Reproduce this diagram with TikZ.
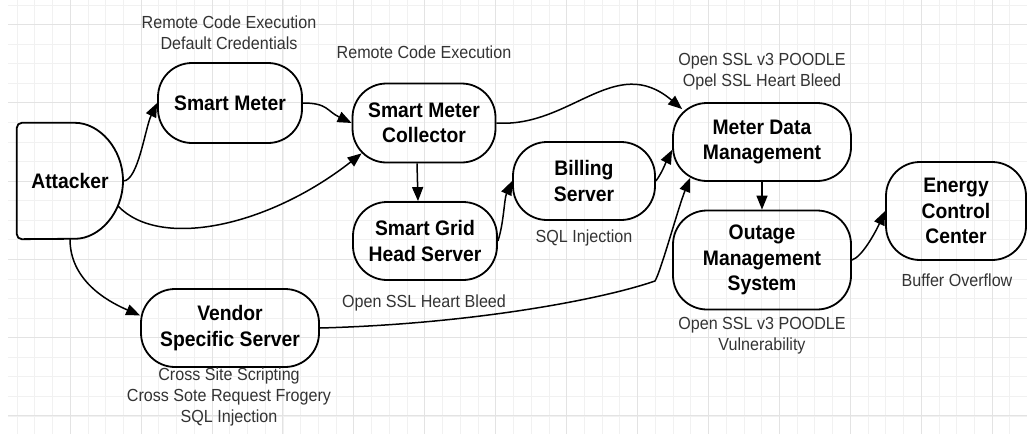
\documentclass[tikz,border=0pt]{standalone}
\usepackage{fontspec}
\setmainfont{Liberation Sans}[FakeStretch=0.92]
\usetikzlibrary{arrows.meta}
\definecolor{gridminor}{HTML}{F1F1F1}
\definecolor{gridmajor}{HTML}{E3E3E3}
\definecolor{vulngray}{HTML}{333333}
\begin{document}
\begin{tikzpicture}[x=1pt,y=-1pt,
    box/.style={draw, line width=1.8pt, rounded corners=34pt, align=center,
      font=\bfseries\fontsize{21}{25.5}\selectfont},
    link/.style={line width=1.5pt, -{Triangle[length=14pt,width=11pt]}},
    vuln/.style={font=\fontsize{17.5}{21}\selectfont, text=vulngray, align=center, inner sep=0pt},
    gridline/.style={draw=gridminor, line width=0.8pt},
    gridbold/.style={draw=gridmajor, line width=1pt}]
    \useasboundingbox (0,0) rectangle (1027,434);
    % grid
    \foreach \k in {0,...,56}
        \draw[gridline] ({17+17.73*\k},0) -- ({17+17.73*\k},434);
    \foreach \k in {0,...,21}
        \draw[gridline] (8,{5+19.57*\k}) -- (1027,{5+19.57*\k});
    \foreach \k in {3,7,...,55}
        \draw[gridbold] ({17+17.73*\k},0) -- ({17+17.73*\k},434);
    \foreach \k in {1,5,...,21}
        \draw[gridbold] (8,{5+19.57*\k}) -- (1027,{5+19.57*\k});

    % attacker
    \node[minimum width=106pt, minimum height=116pt, font=\bfseries\fontsize{21}{25.5}\selectfont] (attacker) at (70,181) {Attacker};
    \draw[line width=1.8pt, rounded corners=5pt] (attacker.north) arc[start angle=-90, end angle=90, x radius=53, y radius=58]
        -- (attacker.south west) -- (attacker.north west) -- cycle;
    \coordinate (atk-lo) at ([shift={(48,25)}]attacker.center);

    % systems
    \node[box, minimum width=144pt, minimum height=80pt] (meter) at (230,103) {Smart Meter};
    \node[box, minimum width=143pt, minimum height=79pt] (collector) at (424,123) {Smart Meter\\Collector};
    \node[box, minimum width=144pt, minimum height=78pt] (headend) at (425,241) {Smart Grid\\Head Server};
    \node[box, minimum width=142pt, minimum height=78pt] (billing) at (584,181) {Billing\\Server};
    \node[box, minimum width=178pt, minimum height=78pt] (mdm) at (762,142) {Meter Data\\Management};
    \node[box, minimum width=178pt, minimum height=99pt] (outage) at (762,260) {Outage\\Management\\System};
    \node[box, minimum width=140pt, minimum height=98pt] (ecc) at (956,211) {Energy\\Control\\Center};
    \node[box, minimum width=178pt, minimum height=78pt] (vendor) at (230,328) {Vendor\\Specific Server};

    % vulnerabilities
    \node[vuln] (v-meter) at (229,32.5) {Remote Code Execution\\Default Credentials};
    \node[vuln] (v-collector) at (424,52) {Remote Code Execution};
    \node[vuln] (v-mdm) at (762,71.5) {Open SSL v3 POODLE\\Opel SSL Heart Bleed};
    \node[vuln] (v-billing) at (584,238) {SQL Injection};
    \node[vuln] (v-link) at (424,303) {Open SSL Heart Bleed};
    \node[vuln] (v-outage) at (762,335.5) {Open SSL v3 POODLE\\Vulnerability};
    \node[vuln] (v-ecc) at (957,280) {Buffer Overflow};
    \node[vuln] (v-vendor) at (229,397) {Cross Site Scripting\\Cross Sote Request Frogery\\SQL Injection};

    % attack paths
    \draw[link] (attacker.east) .. controls +(15,0) and +(-12,25) .. (meter.west);
    \draw[link] (atk-lo) .. controls +(42,44) and +(-93,73) .. ([shift={(10,-10)}]collector.south west);
    \draw[link] (attacker.south) .. controls +(0,40) and +(-35,-15) .. (vendor.172);
    \draw[link] (meter.east) .. controls +(25,0) and +(-25,-12) .. (collector.west);
    \draw[link] ([xshift=-7pt]collector.south) -- ([xshift=-7pt]headend.north);
    \draw[link] (headend.east) .. controls +(6,-18) and +(-8,18) .. (billing.west);
    \draw[link] (billing.east) .. controls +(6,-8) and +(-6,12) .. (mdm.185);
    \draw[link] (collector.east) .. controls +(74,5) and +(-67,-57) .. ([shift={(10,7)}]mdm.north west);
    \draw[link] (vendor.east) .. controls +(150,-4) and +(-55,19) .. (655,281)
        .. controls +(6,-10) and +(-12,30) .. ([shift={(18,-4)}]mdm.south west);
    \draw[link] (mdm.south) -- (outage.north);
    \draw[link] (outage.east) .. controls +(10,-3) and +(-10,22) .. (ecc.west);
\end{tikzpicture}
\end{document}
